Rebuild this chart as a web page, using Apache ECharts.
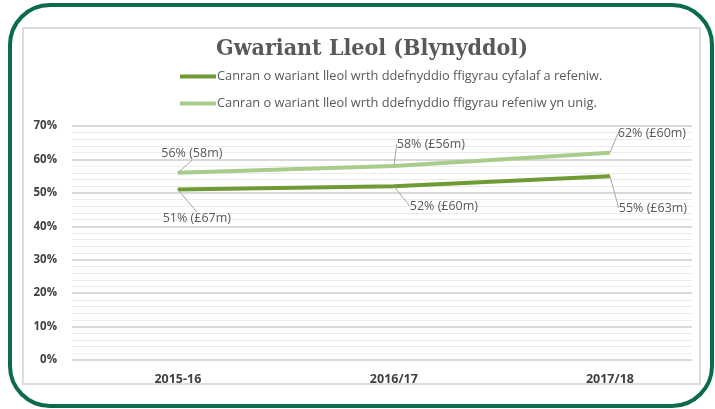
<!DOCTYPE html>
<html>
<head>
<meta charset="utf-8">
<script src="https://cdn.jsdelivr.net/npm/echarts@6/dist/echarts.min.js"></script>
<style>
  html, body { margin: 0; padding: 0; background: #fff; }
  #chart { width: 715px; height: 409px; }
</style>
</head>
<body>
<div id="chart"></div>
<script>
const categories = ['2015-16', '2016/17', '2017/18'];
const seriesNames = [
  'Canran o wariant lleol wrth ddefnyddio ffigyrau cyfalaf a refeniw.',
  'Canran o wariant lleol wrth ddefnyddio ffigyrau refeniw yn unig.'
];
const capitalRevenue = [51, 52, 55];
const revenueOnly = [56, 58, 62];
const capitalLabels = ['51% (£67m)', '52% (£60m)', '55% (£63m)'];
const revenueLabels = ['56% (58m)', '58% (£56m)', '62% (£60m)'];

// label offsets from the default 'top' position
const capitalOffsets = [[19, 41], [50, 32], [43, 44]];
const revenueOffsets = [[14, -7], [37, -10], [42, -7]];

const chart = echarts.init(document.getElementById('chart'));

function makeSeries(name, values, labels, offsets, color) {
  return {
    name: name,
    type: 'line',
    data: values.map((v, i) => [i, v]),
    symbol: 'circle',
    symbolSize: 1,
    showSymbol: true,
    lineStyle: { color: color, width: 4 },
    itemStyle: { color: color },
    label: {
      show: true,
      position: 'top',
      color: '#595959',
      fontFamily: 'Open Sans',
      fontSize: 12.5,
      formatter: p => labels[p.dataIndex]
    },
    labelLine: { show: true, lineStyle: { color: '#a6a6a6', width: 1 } },
    labelLayout: p => ({ dx: offsets[p.dataIndex][0], dy: offsets[p.dataIndex][1] }),
    emphasis: { disabled: true },
    animation: false
  };
}

chart.setOption({
  animation: false,
  title: {
    text: 'Gwariant Lleol (Blynyddol)',
    left: 211,
    top: 33,
    textStyle: {
      fontFamily: 'DejaVu Serif Condensed',
      fontWeight: 'bold',
      fontSize: 23,
      color: '#595959'
    }
  },
  legend: {
    orient: 'vertical',
    left: 175,
    top: 65,
    itemGap: 14,
    itemWidth: 36,
    itemHeight: 4,
    icon: 'rect',
    itemStyle: { borderWidth: 0 },
    textStyle: { color: '#595959', fontSize: 12.8, fontFamily: 'Open Sans', padding: [0, 0, 0, -4] },
    data: seriesNames
  },
  graphic: [
    {
      type: 'rect',
      shape: { x: 23, y: 28, width: 677, height: 356 },
      style: { fill: 'none', stroke: '#dcdcdc', lineWidth: 2 },
      silent: true
    },
    {
      type: 'rect',
      shape: { x: 10, y: 5, width: 702, height: 401, r: 40 },
      style: { fill: 'none', stroke: '#0b6b4b', lineWidth: 4 },
      silent: true
    }
  ],
  grid: { left: 72, right: 23, top: 126, bottom: 49 },
  xAxis: {
    type: 'value',
    min: -0.49,
    max: 2.38,
    splitLine: { show: false },
    axisLine: { show: false },
    axisTick: { show: false },
    axisLabel: {
      customValues: [0, 1, 2],
      formatter: v => categories[Math.round(v)],
      color: '#404040',
      fontSize: 12.5,
      fontWeight: 'bold',
      fontFamily: 'Open Sans',
      margin: 13
    }
  },
  yAxis: {
    type: 'value',
    min: 0,
    max: 70,
    interval: 10,
    axisLine: { show: false },
    axisTick: { show: false },
    axisLabel: {
      formatter: '{value}%',
      color: '#404040',
      fontSize: 11.5,
      fontWeight: 'bold',
      fontFamily: 'Open Sans',
      margin: 15
    },
    splitLine: { lineStyle: { color: '#d9d9d9', width: 2 } },
    minorTick: { show: false, splitNumber: 5 },
    minorSplitLine: { show: true, lineStyle: { color: '#ececec', width: 1 } }
  },
  series: [
    makeSeries(seriesNames[0], capitalRevenue, capitalLabels, capitalOffsets, '#6f9b35'),
    makeSeries(seriesNames[1], revenueOnly, revenueLabels, revenueOffsets, '#a8cc8a')
  ]
});
</script>
</body>
</html>
